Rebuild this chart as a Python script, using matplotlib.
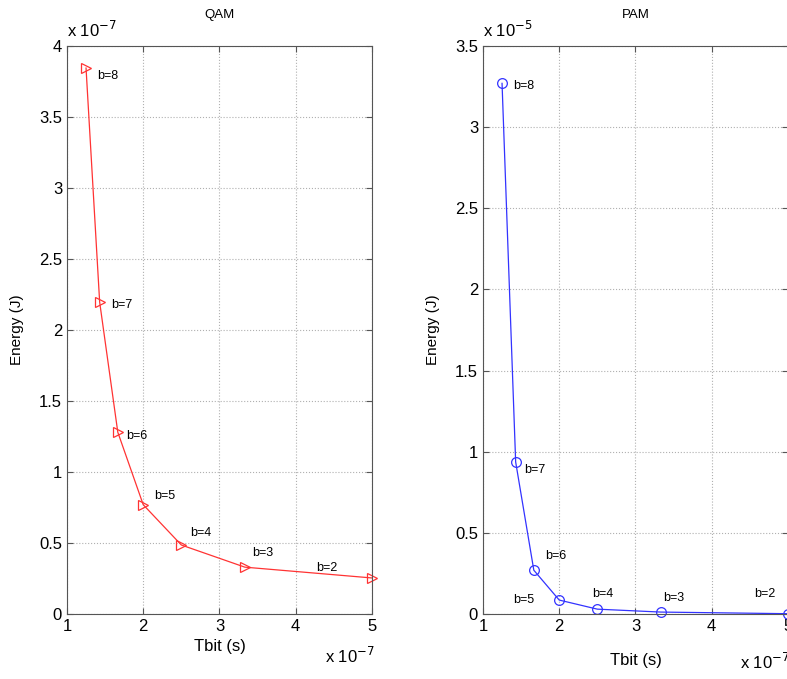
import numpy as np
import matplotlib
matplotlib.use("Agg")
import matplotlib.pyplot as plt

plt.rcParams["font.family"] = ["Liberation Sans", "DejaVu Sans"]

# bits per symbol and the energy per bit for each modulation
b_vals = [8, 7, 6, 5, 4, 3, 2]
tbit = [1.25e-7, 1.4286e-7, 1.6667e-7, 2.0e-7, 2.5e-7, 3.3333e-7, 5.0e-7]
energy_qam = [3.845e-7, 2.197e-7, 1.28e-7, 0.77e-7, 0.486e-7, 0.33e-7, 0.254e-7]
energy_pam = [3.27e-5, 0.937e-5, 0.27e-5, 0.086e-5, 0.03e-5, 0.012e-5, 0.002e-5]

# label offsets (points) for the b=... tags
qam_offsets = [(8, -6), (8, -2), (6, -3), (8, 6), (6, 9), (5, 10), (-40, 7)]
pam_offsets = [(8, -2), (6, -6), (8, 10), (-33, 0), (-4, 11), (2, 10), (-24, 14)]


def panel(ax, y, scale, color, marker, offsets, title, ylim, yticks, yexp):
    x = np.array(tbit) * 1e7
    ys = np.array(y) / scale
    ax.plot(x, ys, color=color, linewidth=0.9, marker=marker,
            markersize=7, markerfacecolor="none", markeredgecolor=color,
            markeredgewidth=0.9, clip_on=False)
    for xi, yi, b, off in zip(x, ys, b_vals, offsets):
        ax.annotate(f"b={b}", xy=(xi, yi), xytext=off, textcoords="offset points",
                    fontsize=9, ha="left", va="center")
    ax.set_xlim(1, 5)
    ax.set_ylim(*ylim)
    ax.set_xticks([1, 2, 3, 4, 5])
    ax.set_yticks(yticks)
    ax.set_yticklabels([f"{t:g}" for t in yticks])
    ax.grid(True, linestyle=":", color="#b0b0b0", linewidth=0.8)
    ax.tick_params(direction="in", top=True, right=True, labelsize=12, length=4,
                   color="#555555")
    for s in ax.spines.values():
        s.set_color("#555555")
    ax.set_title(title, fontsize=9.5, pad=20)
    ax.set_ylabel("Energy (J)", fontsize=11)
    ax.text(0.0, 1.01, r"x 10$^{%d}$" % yexp, transform=ax.transAxes,
            fontsize=12, ha="left", va="bottom")


fig = plt.figure(figsize=(7.87, 6.79), dpi=100)
ax1 = fig.add_axes([0.0851, 0.0957, 0.3875, 0.8365])
ax2 = fig.add_axes([0.6137, 0.0957, 0.3875, 0.8365])

panel(ax1, energy_qam, 1e-7, "#ff3333", ">", qam_offsets, "QAM",
      (0, 4), [0, 0.5, 1, 1.5, 2, 2.5, 3, 3.5, 4], -7)
panel(ax2, energy_pam, 1e-5, "#3333ff", "o", pam_offsets, "PAM",
      (0, 3.5), [0, 0.5, 1, 1.5, 2, 2.5, 3, 3.5], -5)

ax1.set_xlabel("Tbit (s)", fontsize=12, labelpad=4)
ax2.set_xlabel("Tbit (s)", fontsize=12, labelpad=14)
ax1.yaxis.set_label_coords(-0.14, 0.5)
ax2.yaxis.set_label_coords(-0.14, 0.5)
fig.text(0.413, 0.0185, r"x 10$^{-7}$", fontsize=12, ha="left", va="bottom")
fig.text(0.94, 0.01, r"x 10$^{-7}$", fontsize=12, ha="left", va="bottom")

fig.savefig("out.png", dpi=100)
